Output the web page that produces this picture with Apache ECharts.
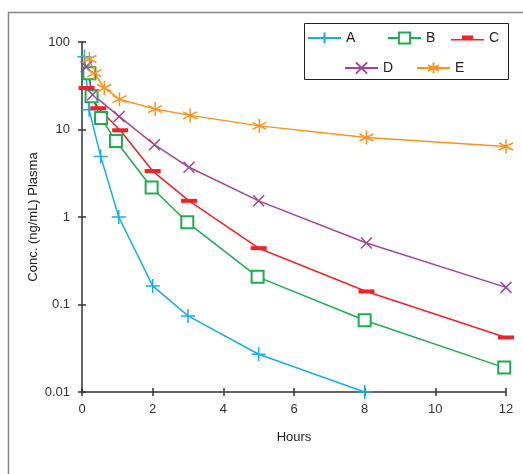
<!DOCTYPE html>
<html>
<head>
<meta charset="utf-8">
<script src="https://cdn.jsdelivr.net/npm/echarts@6/dist/echarts.min.js"></script>
<style>
  html, body { margin: 0; padding: 0; background: #fff; }
  #chart { width: 523px; height: 474px; }
</style>
</head>
<body>
<div id="chart"></div>
<script>
// hours (as plotted) and plasma concentration
const timesA = [0.07, 0.2, 0.53, 1.04, 2.0, 3.0, 5.0, 8.0]
const concA = [68, 16.8, 4.9, 1.0, 0.163, 0.074, 0.027, 0.01]

const timesB = [0.21, 0.27, 0.54, 0.96, 1.97, 2.98, 4.97, 8.0, 11.95]
const concB = [44, 24, 13.5, 7.4, 2.17, 0.87, 0.207, 0.066, 0.019]

const timesC = [0.13, 0.46, 1.08, 2.0, 3.03, 5.0, 8.05, 12.0]
const concC = [29.8, 17.5, 9.8, 3.35, 1.53, 0.44, 0.141, 0.042]

const timesD = [0.12, 0.3, 1.05, 2.05, 3.03, 5.0, 8.05, 12.0]
const concD = [52, 25, 14.1, 6.7, 3.7, 1.53, 0.505, 0.157]

const timesE = [0.21, 0.35, 0.63, 1.06, 2.07, 3.06, 5.02, 8.05, 12.0]
const concE = [64, 44, 29.8, 22.2, 17.1, 14.5, 11, 8.1, 6.4]

const yTickLabels = ['0.01', '0.1', '1', '10', '100']
const xTickLabels = ['0', '2', '4', '6', '8', '10', '12']

const FONT = 'Liberation Sans, Arial, sans-serif'

const pairs = (xs, ys) => xs.map((x, i) => [x, ys[i]])

const plus = 'path://M0,5L10,5M5,0L5,10'
const cross = 'path://M0,0L10,10M10,0L0,10'
const star = 'path://M5,0L5,10M0.67,2.5L9.33,7.5M9.33,2.5L0.67,7.5'
// legend icon for C: thin line with a short bar sitting on it
const barIcon = 'path://M0,7L33,7L33,8.4L0,8.4Z M11,3.6L22,3.6L22,7.2L11,7.2Z'

function makeSeries (name, xs, ys, color, symbol, size, filled) {
  return {
    name,
    type: 'line',
    data: pairs(xs, ys),
    clip: false,
    symbol,
    symbolSize: size,
    showAllSymbol: true,
    lineStyle: { color, width: 1.5 },
    itemStyle: {
      color,
      borderColor: color,
      borderWidth: filled ? 0 : 1.5
    },
    emphasis: { disabled: true }
  }
}

const chart = echarts.init(document.getElementById('chart'))

function legendAt (item, left, top) {
  return {
    data: [item],
    left,
    top,
    itemWidth: 33,
    itemHeight: 14,
    padding: 0,
    selectedMode: false,
    textStyle: { fontFamily: FONT, fontSize: 14, color: '#222' }
  }
}

const option = {
  animation: false,
  backgroundColor: '#fff',
  grid: { left: 82, right: 17, top: 42, bottom: 82 },
  legend: [
    legendAt('A', 307, 31),
    legendAt('B', 387, 31),
    legendAt({ name: 'C', icon: barIcon, itemStyle: { color: '#ee2229' } }, 451, 31),
    legendAt('D', 344, 61),
    legendAt('E', 416, 61)
  ],
  graphic: [
    {
      type: 'rect',
      shape: { x: 8.5, y: 12.5, width: 700, height: 700 },
      style: { fill: 'none', stroke: '#888', lineWidth: 1.5 },
      silent: true
    },
    {
      type: 'rect',
      shape: { x: 304.5, y: 23.5, width: 204, height: 56 },
      style: { fill: 'none', stroke: '#222', lineWidth: 1 },
      silent: true
    }
  ],
  xAxis: [
    {
      type: 'value',
      min: 0,
      max: 12,
      interval: 2,
      name: 'Hours',
      nameLocation: 'middle',
      nameGap: 39,
      nameTextStyle: { fontFamily: FONT, fontSize: 13, color: '#222' },
      axisLine: { lineStyle: { color: '#333', width: 1.5 } },
      axisTick: { length: 4, lineStyle: { color: '#333', width: 1.5 } },
      axisLabel: {
        fontFamily: FONT, fontSize: 13, color: '#333', margin: 11,
        formatter: v => xTickLabels[Math.round(v / 2)]
      },
      splitLine: { show: false }
    },
    {
      type: 'value',
      min: 0,
      max: 12,
      interval: 2,
      position: 'bottom',
      axisLine: { show: false },
      axisTick: { inside: true, length: 4, lineStyle: { color: '#333', width: 1.5 } },
      axisLabel: { show: false },
      splitLine: { show: false }
    }
  ],
  yAxis: [
    {
      type: 'log',
      logBase: 10,
      min: 0.01,
      max: 100,
      name: 'Conc. (ng/mL) Plasma',
      nameLocation: 'middle',
      nameGap: 42,
      nameMoveOverlap: false,
      nameTextStyle: { fontFamily: FONT, fontSize: 13, color: '#222' },
      axisLine: { lineStyle: { color: '#333', width: 1.5 } },
      axisTick: { length: 4, lineStyle: { color: '#333', width: 1.5 } },
      axisLabel: {
        fontFamily: FONT, fontSize: 13, color: '#333', margin: 12,
        formatter: v => yTickLabels[Math.round(Math.log10(v)) + 2]
      },
      splitLine: { show: false }
    },
    {
      type: 'log',
      logBase: 10,
      min: 0.01,
      max: 100,
      position: 'left',
      axisLine: { show: false },
      axisTick: { inside: true, length: 4, lineStyle: { color: '#333', width: 1.5 } },
      axisLabel: { show: false },
      splitLine: { show: false }
    }
  ],
  series: [
    makeSeries('A', timesA, concA, '#1bace6', plus, 14, false),
    makeSeries('B', timesB, concB, '#22aa55', 'emptyRect', 12, false),
    makeSeries('C', timesC, concC, '#ee2229', 'rect', [16, 4], true),
    makeSeries('D', timesD, concD, '#a0469a', cross, 11, false),
    makeSeries('E', timesE, concE, '#f7941e', star, 14, false)
  ]
}

chart.setOption(option)
</script>
</body>
</html>
